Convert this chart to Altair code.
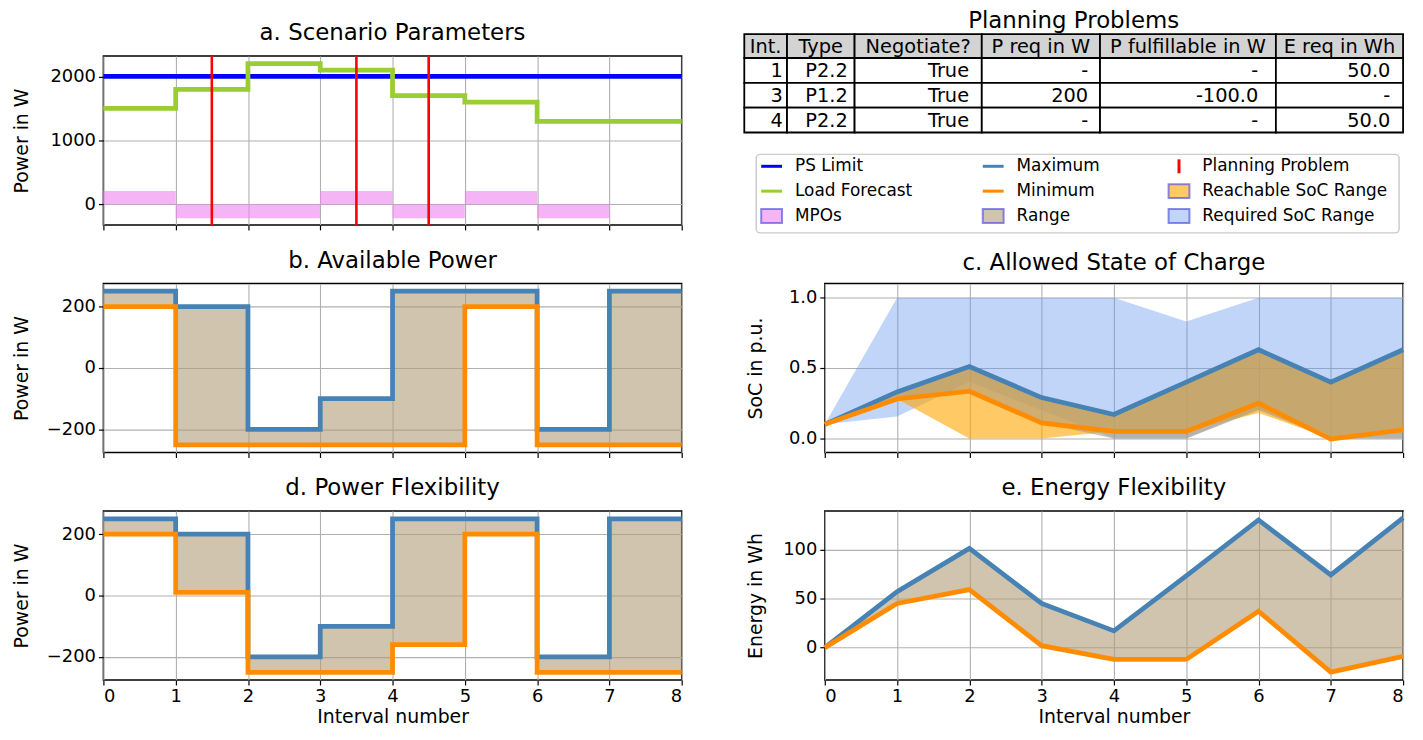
import altair as alt
import pandas as pd

# ---------------- data ----------------
interval_edges = [0, 1, 2, 3, 4, 5, 6, 7, 8]
ps_limit = [2000, 2000, 2000, 2000, 2000, 2000, 2000, 2000]
load_forecast = [1500, 1800, 2200, 2100, 1700, 1600, 1300, 1300]
mpo_power = [210, -215, -215, 210, -215, 210, -215, 0]
planning_problem_at = [1.5, 3.5, 4.5]

avail_max = [250, 200, -200, -100, 250, 250, -200, 250]
avail_min = [200, -250, -250, -250, -250, 200, -250, -250]
flex_max = [250, 200, -200, -100, 250, 250, -200, 250]
flex_min = [200, 10, -250, -250, -160, 200, -250, -250]

soc_max = [0.10, 0.33, 0.51, 0.29, 0.17, 0.40, 0.63, 0.40, 0.63]
soc_min = [0.10, 0.28, 0.335, 0.11, 0.05, 0.05, 0.25, -0.005, 0.06]
req_soc_upper = [0.10, 1.0, 1.0, 1.0, 1.0, 0.83, 1.0, 1.0, 1.0]
req_soc_lower = [0.10, 0.155, 0.40, 0.20, 0.0, 0.0, 0.21, 0.0, 0.0]
reach_soc_lower = [0.10, 0.28, 0.0, 0.0, 0.05, 0.05, 0.18, 0.0, 0.06]
range_soc_lower = [0.10, 0.28, 0.335, 0.11, 0.0, 0.0, 0.20, 0.0, 0.0]

energy_max = [0, 57, 101, 45, 17, 73, 130, 74, 132]
energy_min = [0, 45, 59, 2, -12, -12, 37, -25, -9]

tab_header = ["Int.", "Type", "Negotiate?", "P req in W", "P fulfillable in W", "E req in Wh"]
pp_int = ["1", "3", "4"]
pp_type = ["P2.2", "P1.2", "P2.2"]
pp_negotiate = ["True", "True", "True"]
pp_p_req = ["-", "200", "-"]
pp_p_fulfillable = ["-", "-100.0", "-"]
pp_e_req = ["50.0", "-", "50.0"]

legend_labels = ["PS Limit", "Load Forecast", "MPOs",
                 "Maximum", "Minimum", "Range",
                 "Planning Problem", "Reachable SoC Range", "Required SoC Range"]
legend_kinds = ["line", "line", "patch", "line", "line", "patch", "vline", "patch", "patch"]

# ---------------- style ----------------
FONT = "DejaVu Sans"
C_PS = "#0000ff"
C_LF = "#9acd32"
C_MPO = "#ee82ee"
C_PP = "#ff0000"
C_MAX = "#4682b4"
C_MIN = "#ff8c00"
C_RANGE = "#b19d78"
C_REACH = "#ffa500"
C_REQ = "#6495ed"
legend_colors = [C_PS, C_LF, C_MPO, C_MAX, C_MIN, C_RANGE, C_PP, C_REACH, C_REQ]
legend_alpha = [1, 1, 0.6, 1, 1, 0.6, 1, 0.6, 0.4]

W, H = 582, 170
LW = 4.8


def step_vals(v):
    return list(v) + [v[-1]]


def xenc(labels):
    return alt.X("x:Q", scale=alt.Scale(domain=[0, 8], nice=False, zero=False),
                 axis=alt.Axis(values=interval_edges, labels=labels, grid=True,
                               title="Interval number" if labels else None,
                               tickSize=5, labelPadding=3, titlePadding=2))


def yaxis(title, values, fmt, tx):
    return alt.Axis(values=values, format=fmt, title=title, grid=True, tickSize=5,
                    labelPadding=3, titleX=tx)


# ---------------- panel a ----------------
df_mpo = pd.DataFrame({"x": interval_edges[:-1], "x1": interval_edges[1:], "v": mpo_power})
df_a = pd.DataFrame({"x": interval_edges, "ps": step_vals(ps_limit), "lf": step_vals(load_forecast)})
df_pp = pd.DataFrame({"x": planning_problem_at})
ya = alt.Scale(domain=[-320, 2320], nice=False, zero=False)
ya_ax = yaxis("Power in W", [0, 1000, 2000], "d", -72)

a_mpo = alt.Chart(df_mpo).mark_rect(color=C_MPO, opacity=0.6).encode(
    x=xenc(False), x2="x1:Q", y=alt.Y("v:Q", scale=ya, axis=ya_ax), y2=alt.datum(0))
a_ps = alt.Chart(df_a).mark_line(interpolate="step-after", color=C_PS, strokeWidth=LW).encode(
    x=xenc(False), y=alt.Y("ps:Q", scale=ya, axis=ya_ax))
a_lf = alt.Chart(df_a).mark_line(interpolate="step-after", color=C_LF, strokeWidth=LW).encode(
    x=xenc(False), y=alt.Y("lf:Q", scale=ya, axis=ya_ax))
a_pp = alt.Chart(df_pp).mark_rule(color=C_PP, strokeWidth=2.6).encode(x=xenc(False))
panel_a = alt.layer(a_mpo, a_ps, a_lf, a_pp).properties(
    width=W, height=H, title=alt.Title("a. Scenario Parameters", offset=9))


# ---------------- power panels b, d ----------------
def power_panel(vmax, vmin, title, labels):
    df = pd.DataFrame({"x": interval_edges, "mx": step_vals(vmax), "mn": step_vals(vmin)})
    ys = alt.Scale(domain=[-275, 275], nice=False, zero=False)
    ax = yaxis("Power in W", [-200, 0, 200], "d", -72)
    area = alt.Chart(df).mark_area(interpolate="step-after", color=C_RANGE, opacity=0.6).encode(
        x=xenc(labels), y=alt.Y("mx:Q", scale=ys, axis=ax), y2="mn:Q")
    lmax = alt.Chart(df).mark_line(interpolate="step-after", color=C_MAX, strokeWidth=LW).encode(
        x=xenc(labels), y=alt.Y("mx:Q", scale=ys, axis=ax))
    lmin = alt.Chart(df).mark_line(interpolate="step-after", color=C_MIN, strokeWidth=LW).encode(
        x=xenc(labels), y=alt.Y("mn:Q", scale=ys, axis=ax))
    return alt.layer(area, lmax, lmin).properties(
        width=W, height=H, title=alt.Title(title, offset=9))


panel_b = power_panel(avail_max, avail_min, "b. Available Power", False)
panel_d = power_panel(flex_max, flex_min, "d. Power Flexibility", True)

# ---------------- panel c ----------------
df_c = pd.DataFrame({"x": interval_edges, "mx": soc_max, "mn": soc_min,
                     "ru": req_soc_upper, "rl": req_soc_lower,
                     "hl": reach_soc_lower, "gl": range_soc_lower})
yc = alt.Scale(domain=[-0.1, 1.1], nice=False, zero=False)
yc_ax = yaxis("SoC in p.u.", [0, 0.5, 1.0], ".1f", -60)
c_req = alt.Chart(df_c).mark_area(color=C_REQ, opacity=0.4).encode(
    x=xenc(False), y=alt.Y("ru:Q", scale=yc, axis=yc_ax), y2="rl:Q")
c_reach = alt.Chart(df_c).mark_area(color=C_REACH, opacity=0.6).encode(
    x=xenc(False), y=alt.Y("mx:Q", scale=yc, axis=yc_ax), y2="hl:Q")
c_range = alt.Chart(df_c).mark_area(color=C_RANGE, opacity=0.6).encode(
    x=xenc(False), y=alt.Y("mx:Q", scale=yc, axis=yc_ax), y2="gl:Q")
c_max = alt.Chart(df_c).mark_line(color=C_MAX, strokeWidth=LW).encode(
    x=xenc(False), y=alt.Y("mx:Q", scale=yc, axis=yc_ax))
c_min = alt.Chart(df_c).mark_line(color=C_MIN, strokeWidth=LW).encode(
    x=xenc(False), y=alt.Y("mn:Q", scale=yc, axis=yc_ax))
panel_c = alt.layer(c_req, c_reach, c_range, c_max, c_min).properties(
    width=W, height=H, title=alt.Title("c. Allowed State of Charge", offset=9))

# ---------------- panel e ----------------
df_e = pd.DataFrame({"x": interval_edges, "mx": energy_max, "mn": energy_min})
ye = alt.Scale(domain=[-33, 139], nice=False, zero=False)
ye_ax = yaxis("Energy in Wh", [0, 50, 100], "d", -60)
e_area = alt.Chart(df_e).mark_area(color=C_RANGE, opacity=0.6).encode(
    x=xenc(True), y=alt.Y("mx:Q", scale=ye, axis=ye_ax), y2="mn:Q")
e_max = alt.Chart(df_e).mark_line(color=C_MAX, strokeWidth=LW).encode(
    x=xenc(True), y=alt.Y("mx:Q", scale=ye, axis=ye_ax))
e_min = alt.Chart(df_e).mark_line(color=C_MIN, strokeWidth=LW).encode(
    x=xenc(True), y=alt.Y("mn:Q", scale=ye, axis=ye_ax))
panel_e = alt.layer(e_area, e_max, e_min).properties(
    width=W, height=H, title=alt.Title("e. Energy Flexibility", offset=9))

# ---------------- table + legend (pixel layout inside the top-right cell) ----------------
TAB_COLS = [-81, -38, 30, 158, 277, 454, 582]
TAB_ROWS = [-22, 2, 27, 52, 77]
body_cols = [pp_int, pp_type, pp_negotiate, pp_p_req, pp_p_fulfillable, pp_e_req]

cells, head_txt, body_txt = [], [], []
for r in range(4):
    for c in range(6):
        x0, x1 = TAB_COLS[c], TAB_COLS[c + 1]
        y0, y1 = TAB_ROWS[r], TAB_ROWS[r + 1]
        cells.append({"x": x0, "x1": x1, "y": y0, "y1": y1,
                      "fill": "#d3d3d3" if r == 0 else "#ffffff"})
        if r == 0:
            head_txt.append({"x": (x0 + x1) / 2, "y": (y0 + y1) / 2 + 1, "t": tab_header[c]})
        else:
            body_txt.append({"x": x1 - 0.1 * (x1 - x0), "y": (y0 + y1) / 2 + 1,
                             "t": body_cols[c][r - 1]})
df_cells = pd.DataFrame(cells)
df_head = pd.DataFrame(head_txt)
df_body = pd.DataFrame(body_txt)

px = alt.Scale(domain=[0, W], range=[0, W], nice=False, zero=False)
py = alt.Scale(domain=[0, H], range=[0, H], nice=False, zero=False)
PX = lambda f: alt.X(f, scale=px, axis=None)
PY = lambda f: alt.Y(f, scale=py, axis=None)

TAB_FS = 19.5
t_cells = alt.Chart(df_cells).mark_rect(stroke="black", strokeWidth=1.8).encode(
    x=PX("x:Q"), x2="x1:Q", y=PY("y:Q"), y2="y1:Q", fill=alt.Fill("fill:N", scale=None))
t_head = alt.Chart(df_head).mark_text(font=FONT, fontSize=TAB_FS, baseline="middle", align="center",
                                      color="black").encode(x=PX("x:Q"), y=PY("y:Q"), text="t:N")
t_body = alt.Chart(df_body).mark_text(font=FONT, fontSize=TAB_FS, baseline="middle", align="right",
                                      color="black").encode(x=PX("x:Q"), y=PY("y:Q"), text="t:N")
df_ttl = pd.DataFrame({"x": [(TAB_COLS[0] + TAB_COLS[-1]) / 2], "y": [-28], "t": ["Planning Problems"]})
t_title = alt.Chart(df_ttl).mark_text(font=FONT, fontSize=23, baseline="alphabetic", align="center",
                                      color="black").encode(x=PX("x:Q"), y=PY("y:Q"), text="t:N")

# legend
LEG_BOX = {"x": -69, "x1": 578, "y": 99, "y1": 178}
LEG_COL_X = [-64, 159, 346]
LEG_ROW_Y = [111, 136, 161]
HANDLE_W = 21
leg = []
for i, (lab, kind) in enumerate(zip(legend_labels, legend_kinds)):
    col, row = i // 3, i % 3
    hx = LEG_COL_X[col]
    cy = LEG_ROW_Y[row]
    leg.append({"lab": lab, "kind": kind, "color": legend_colors[i], "alpha": legend_alpha[i],
                "hx0": hx, "hx1": hx + HANDLE_W, "hxm": hx + HANDLE_W / 2,
                "cy": cy, "cy0": cy - 7, "cy1": cy + 7, "tx": hx + 34})
df_leg = pd.DataFrame(leg)
df_box = pd.DataFrame([LEG_BOX])

l_box = alt.Chart(df_box).mark_rect(fill="white", stroke="#cccccc", strokeWidth=1.5,
                                    cornerRadius=4).encode(
    x=PX("x:Q"), x2="x1:Q", y=PY("y:Q"), y2="y1:Q")
l_line = alt.Chart(df_leg).transform_filter(alt.datum.kind == "line").mark_rule(strokeWidth=3).encode(
    x=PX("hx0:Q"), x2="hx1:Q", y=PY("cy:Q"), color=alt.Color("color:N", scale=None))
l_vline = alt.Chart(df_leg).transform_filter(alt.datum.kind == "vline").mark_rule(strokeWidth=3).encode(
    x=PX("hxm:Q"), y=PY("cy0:Q"), y2="cy1:Q", color=alt.Color("color:N", scale=None))
l_patch = alt.Chart(df_leg).transform_filter(alt.datum.kind == "patch").mark_rect(
    stroke="#4040e0", strokeWidth=2, strokeOpacity=0.6).encode(
    x=PX("hx0:Q"), x2="hx1:Q", y=PY("cy0:Q"), y2="cy1:Q",
    fill=alt.Fill("color:N", scale=None), fillOpacity=alt.FillOpacity("alpha:Q", scale=None))
l_text = alt.Chart(df_leg).mark_text(font=FONT, fontSize=17, baseline="middle", align="left",
                                     color="black").encode(x=PX("tx:Q"), y=PY("cy:Q"), text="lab:N")

panel_tab = alt.layer(t_cells, t_head, t_body, t_title, l_box, l_line, l_vline, l_patch, l_text).properties(
    width=W, height=H, view=alt.ViewBackground(strokeOpacity=0))

# ---------------- assemble ----------------
chart = alt.concat(panel_a, panel_tab, panel_b, panel_c, panel_d, panel_e,
                   columns=2, spacing={"row": 59, "column": 144}, bounds="flush").properties(
    padding={"left": 4, "top": 0, "right": 1, "bottom": 1}
).configure_axis(
    labelFont=FONT, titleFont=FONT, labelFontSize=18, titleFontSize=19,
    labelColor="black", titleColor="black", tickColor="black", tickWidth=1.2,
    gridColor="#b0b0b0", gridWidth=1.1, domain=False, titleFontWeight="normal"
).configure_title(
    font=FONT, fontSize=23, fontWeight="normal", color="black", anchor="middle"
).configure_view(stroke="black", strokeWidth=1.5)

chart.save("out.html", embed_options={"renderer": "svg", "actions": False})
